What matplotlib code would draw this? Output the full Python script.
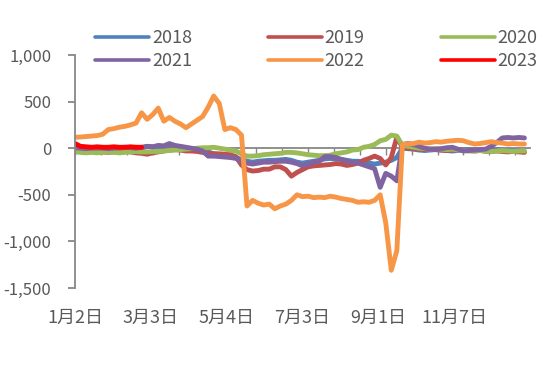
import numpy as np
import matplotlib
matplotlib.use('Agg')
import matplotlib.pyplot as plt
from matplotlib.ticker import FuncFormatter

plt.rcParams['font.family'] = ['Noto Sans CJK SC', 'DejaVu Sans']

# values sampled every 3 trading days
step = 3
v2018 = [-20, -15, -10, -15, -20, -15, -10, -15, -20, -15, -10, -5, 0,
         20, 15, 10, 15, 10, 5, 0, -10, -15, -20, -25,
         -40, -60, -70, -80, -90, -100, -120,
         -140, -150, -140, -135, -130, -130, -125, -120, -130, -150,
         -160, -150, -140, -130, -115, -110, -115, -120, -130, -140,
         -140, -150, -160, -170, -160, -150, -130, -100,
         0, -5, -10, -20, -25, -20, -15, -20, -25, -30, -25, -20, -15,
         -20, -25, -30, -20, -15, -20, -25, -30, -25]
v2019 = [-30, -35, -40, -35, -30, -40, -45, -40, -35, -30, -40, -50, -55,
         -65, -50, -40, -30, -20, -15, -20, -30, -30, -35, -45,
         -55, -60, -60, -65, -70, -90, -180,
         -230, -245, -240, -225, -225, -200, -200, -230, -300, -260,
         -230, -200, -190, -185, -180, -175, -165, -170, -185, -175,
         -160, -130, -110, -85, -110, -180, -100, 120,
         10, 0, -5, -10, -15, -10, -15, -20, -25, -20, -15, -20, -25,
         -30, -25, -30, -35, -30, -35, -40, -35, -40, -45]
v2020 = [-40, -45, -50, -45, -50, -45, -40, -45, -50, -45, -40, -35, -40,
         -40, -35, -35, -30, -25, -20, -15, -10, -5, 0, 5,
         5, 10, 0, -10, -20, -30, -60,
         -85, -85, -80, -70, -65, -60, -55, -45, -45, -50,
         -60, -70, -75, -80, -80, -75, -60, -50, -40, -20,
         -15, 10, 20, 40, 80, 95, 140, 130,
         30, 20, 10, 0, -5, -10, -5, -10, -15, -10, -20, -25, -30,
         -30, -25, -30, -35, -30, -25, -30, -35, -30, -30]
v2021 = [5, 0, -5, 0, 5, 0, -5, 0, 5, 10, 5, 0, 10,
         20, 15, 30, 25, 50, 30, 20, 10, 0, -10, -30,
         -85, -85, -90, -95, -100, -110, -140,
         -160, -170, -160, -150, -150, -145, -140, -140, -150, -165,
         -190, -170, -150, -140, -90, -90, -100, -120, -140, -150,
         -160, -180, -200, -220, -420, -270, -300, -350,
         40, 50, 40, 20, 0, -10, -10, -5, 5, 10, -10, -30, -25,
         -20, -15, -10, 20, 60, 110, 115, 110, 115, 110]
v2022 = [118, 120, 125, 130, 135, 150, 200, 210, 225, 235, 250, 270, 380,
         310, 360, 430, 290, 330, 290, 260, 220, 260, 300, 340,
         440, 560, 480, 200, 220, 200, 140,
         -620, -560, -590, -610, -600, -650, -620, -600, -560, -500,
         -520, -515, -530, -525, -530, -515, -525, -540, -550, -560,
         -580, -575, -580, -560, -500, -800, -1310, -1100,
         40, 45, 50, 65, 55, 60, 70, 65, 75, 80, 85, 80, 60,
         45, 50, 60, 70, 60, 55, 45, 50, 45, 45]
v2023 = [50, 20, 15, 10, 15, 10, 10, 15, 10, 10, 15, 10, 10]

years = ['2018', '2019', '2020', '2021', '2022', '2023']
series = [v2018, v2019, v2020, v2021, v2022, v2023]
colors = ['#4F81BD', '#C0504D', '#9BBB59', '#8064A2', '#F79646', '#FF0000']

date_labels = ['1月2日', '3月3日', '5月4日', '7月3日', '9月1日', '11月7日']
label_idx = [0, 41, 82, 123, 164, 205]

grey = '#595959'
axis_grey = '#878787'

fig = plt.figure(figsize=(5.5, 3.73), dpi=100)
ax = fig.add_axes([75 / 550, 1 - 288 / 373, 455 / 550, 233 / 373])

lines = {}
for name, vals, c in zip(years, series, colors):
    x = np.arange(len(vals)) * step
    lines[name], = ax.plot(x, vals, color=c, lw=3.5, solid_capstyle='round',
                           solid_joinstyle='round', label=name)

ax.set_xlim(0, 246)
ax.set_ylim(-1500, 1000)
ax.set_yticks(np.arange(-1500, 1001, 500))
ax.yaxis.set_major_formatter(FuncFormatter(lambda v, p: '{:,.0f}'.format(v)))

for s in ['top', 'right']:
    ax.spines[s].set_visible(False)
ax.spines['left'].set_color(axis_grey)
ax.spines['left'].set_linewidth(1.3)
ax.spines['bottom'].set_position(('data', 0))
ax.spines['bottom'].set_color(axis_grey)
ax.spines['bottom'].set_linewidth(1.3)
ax.spines['bottom'].set_zorder(0.5)

ax.set_xticks(np.arange(0, 246, 14))
ax.tick_params(axis='x', labelbottom=False, length=5, width=1, color=axis_grey, direction='out')
ax.tick_params(axis='y', labelsize=12, labelcolor=grey, length=5, width=1.3,
               color=axis_grey, pad=12)

sec = ax.secondary_xaxis(0)
sec.set_xticks(label_idx)
sec.set_xticklabels(date_labels)
sec.tick_params(length=0, pad=15, labelsize=13, labelcolor=grey)
sec.spines['bottom'].set_visible(False)

order = ['2018', '2021', '2019', '2022', '2020', '2023']
leg = fig.legend([lines[k] for k in order], order, ncol=3, loc='upper left',
                 bbox_to_anchor=(95 / 550, 1 - 29 / 373), frameon=False,
                 fontsize=13, handlelength=3.0, handletextpad=0.15,
                 columnspacing=4.2, labelspacing=0.3, borderpad=0, borderaxespad=0)
for t in leg.get_texts():
    t.set_color(grey)
for h in leg.get_lines():
    h.set_linewidth(2.6)

fig.savefig('out.png', dpi=100)
